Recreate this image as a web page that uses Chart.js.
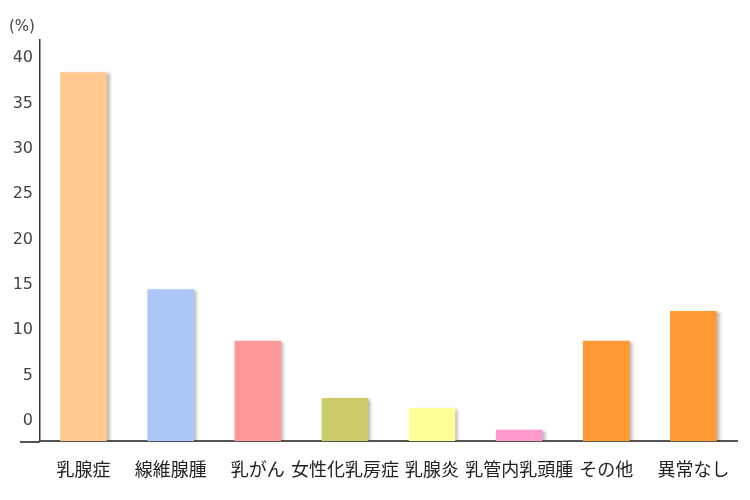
<!DOCTYPE html>
<html lang="ja">
<head>
<meta charset="utf-8">
<title>乳房検診結果</title>
<script src="https://cdn.jsdelivr.net/npm/chart.js@4/dist/chart.umd.min.js"></script>
<style>
  html, body { margin: 0; padding: 0; background: #fff; }
  #wrap { width: 750px; height: 500px; }
</style>
</head>
<body>
<div id="wrap"><canvas id="chart"></canvas></div>
<script>
// ===== データ =====
const categories = ['乳腺症', '線維腺腫', '乳がん', '女性化乳房症', '乳腺炎', '乳管内乳頭腫', 'その他', '異常なし'];
const percents   = [38.4, 14.5, 8.8, 2.5, 1.4, -1.0, 8.8, 12.1];
const barColors  = ['#FFC990', '#ADC8F8', '#FF9999', '#CACA66', '#FFFF99', '#FF99CC', '#FF9933', '#FF9933'];
const yTicks     = [0, 5, 10, 15, 20, 25, 30, 35, 40];
const Y_MIN = -2.2, Y_MAX = 42;

const FONT_JP  = '"Noto Sans CJK JP", "Noto Sans", sans-serif';
const FONT_NUM = '"DejaVu Sans", sans-serif';

// 棒の影 + 横軸の左はみ出し部分
const shadowPlugin = {
  id: 'barShadow',
  beforeDatasetsDraw(chart) {
    const ctx = chart.ctx;
    ctx.save();
    ctx.shadowColor = 'rgba(0,0,0,0.28)';
    ctx.shadowBlur = 3;
    ctx.shadowOffsetX = 3;
    ctx.shadowOffsetY = 1;
  },
  afterDatasetsDraw(chart) {
    chart.ctx.restore();
  },
  afterDraw(chart) {
    const { ctx, chartArea } = chart;
    ctx.save();
    ctx.strokeStyle = '#555';
    ctx.lineWidth = 2;
    ctx.beginPath();
    ctx.moveTo(20, chartArea.bottom + 1);
    ctx.lineTo(chartArea.left, chartArea.bottom + 1);
    ctx.stroke();
    ctx.restore();
  }
};

new Chart(document.getElementById('chart'), {
  type: 'bar',
  data: {
    labels: categories,
    datasets: [{
      data: percents,
      base: Y_MIN,
      backgroundColor: barColors,
      borderWidth: 0,
      barThickness: 46
    }]
  },
  options: {
    responsive: true,
    maintainAspectRatio: false,
    animation: false,
    layout: { padding: { left: 9, right: 13, top: 0, bottom: 0 } },
    plugins: {
      legend: { display: false },
      tooltip: { enabled: false },
      title: {
        display: true,
        text: '(%)',
        align: 'start',
        color: '#444',
        font: { family: FONT_NUM, size: 15, weight: 'normal', lineHeight: 1.2 },
        padding: { top: 18, bottom: 4 }
      }
    },
    scales: {
      x: {
        grid: { display: false },
        border: { display: true, color: '#555', width: 2 },
        ticks: {
          color: '#222',
          font: { family: FONT_JP, size: 18 },
          padding: 9,
          maxRotation: 0,
          autoSkip: false
        },
        afterFit: s => { s.height = 59; }
      },
      y: {
        min: Y_MIN,
        max: Y_MAX,
        grid: { display: false, drawTicks: false },
        border: { display: true, color: '#333', width: 1.5 },
        afterBuildTicks: s => { s.ticks = yTicks.map(v => ({ value: v })); },
        ticks: {
          color: '#444',
          font: { family: FONT_NUM, size: 16 },
          padding: 7
        },
        afterFit: s => { s.width = 31; }
      }
    }
  },
  plugins: [shadowPlugin]
});
</script>
</body>
</html>
